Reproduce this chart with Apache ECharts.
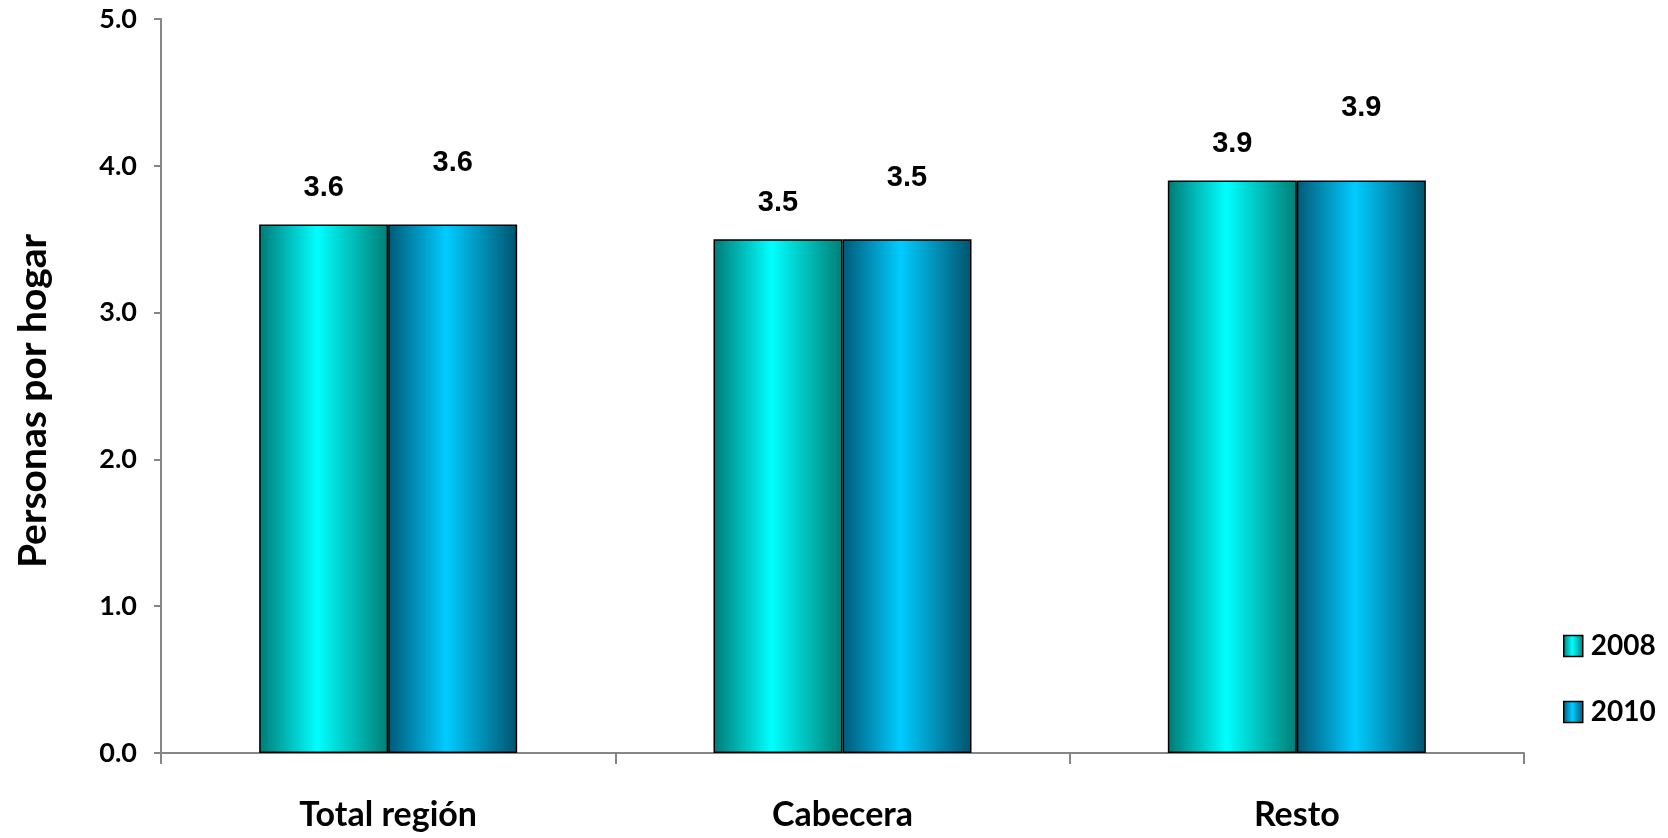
<!DOCTYPE html>
<html>
<head>
<meta charset="utf-8">
<script src="https://cdn.jsdelivr.net/npm/echarts@6/dist/echarts.min.js"></script>
<style>
html,body{margin:0;padding:0;background:#fff;}
#chart{width:1668px;height:838px;}
</style>
</head>
<body>
<div id="chart"></div>
<script>
const categories = ['Total región', 'Cabecera', 'Resto'];
const seriesNames = ['2008', '2010'];
const values2008 = [3.6, 3.5, 3.9];
const values2010 = [3.6, 3.5, 3.9];
const yTicks = { min: 0, max: 5, interval: 1 };

const chart = echarts.init(document.getElementById('chart'));

function grad(edgeL, mid, edgeR) {
  return new echarts.graphic.LinearGradient(0, 0, 1, 0, [
    { offset: 0, color: edgeL },
    { offset: 0.45, color: mid },
    { offset: 1, color: edgeR }
  ]);
}
const color2008 = grad('#007a76', '#00ffff', '#007e76');
const color2010 = grad('#005a78', '#00ccff', '#00546e');

const labelFont = { fontFamily: 'Liberation Sans', fontWeight: 'bold', fontSize: 29, color: '#000' };
const lato = 'Lato';

chart.setOption({
  animation: false,
  grid: { left: 161, right: 144, top: 19, bottom: 85, containLabel: false },
  legend: {
    orient: 'vertical',
    left: 1558, top: 627,
    icon: 'rect',
    itemWidth: 19, itemHeight: 21, itemGap: 38,
    textStyle: { fontFamily: lato, fontWeight: 'bold', fontSize: 28, color: '#000', padding: [0, 0, 0, 3] },
    data: seriesNames.map(n => ({ name: n, itemStyle: { borderColor: '#000', borderWidth: 1.5 } }))
  },
  xAxis: {
    type: 'category',
    data: categories,
    axisLine: { lineStyle: { color: '#868686', width: 2 } },
    axisTick: { show: true, length: 11, lineStyle: { color: '#868686', width: 2 } },
    axisLabel: { margin: 45, fontFamily: lato, fontWeight: 'bold', fontSize: 34, color: '#000' },
    splitLine: { show: false }
  },
  yAxis: {
    type: 'value',
    min: yTicks.min, max: yTicks.max, interval: yTicks.interval,
    name: 'Personas por hogar',
    nameLocation: 'middle',
    nameGap: 108,
    nameTextStyle: { fontFamily: lato, fontWeight: 'bold', fontSize: 39, color: '#000', padding: [0, 30, 0, 0] },
    axisLine: { show: true, lineStyle: { color: '#868686', width: 2 } },
    axisTick: { show: true, length: 7, lineStyle: { color: '#868686', width: 2 } },
    axisLabel: { margin: 24, fontFamily: lato, fontWeight: 'bold', fontSize: 27, color: '#000', formatter: v => v.toFixed(1) },
    splitLine: { show: false }
  },
  series: [
    {
      name: seriesNames[0], type: 'bar', data: values2008,
      barWidth: 129, barGap: '0%',
      itemStyle: { color: color2008, borderColor: '#000', borderWidth: 1.5 },
      label: { show: true, position: 'top', distance: 22, formatter: p => p.value.toFixed(1), ...labelFont }
    },
    {
      name: seriesNames[1], type: 'bar',
      data: values2010.map((v, i) => i === 2 ? { value: v, label: { distance: 58 } } : v),
      barWidth: 129, barGap: '0%',
      itemStyle: { color: color2010, borderColor: '#000', borderWidth: 1.5 },
      label: { show: true, position: 'top', distance: 47, formatter: p => p.value.toFixed(1), ...labelFont }
    }
  ]
});
</script>
</body>
</html>
